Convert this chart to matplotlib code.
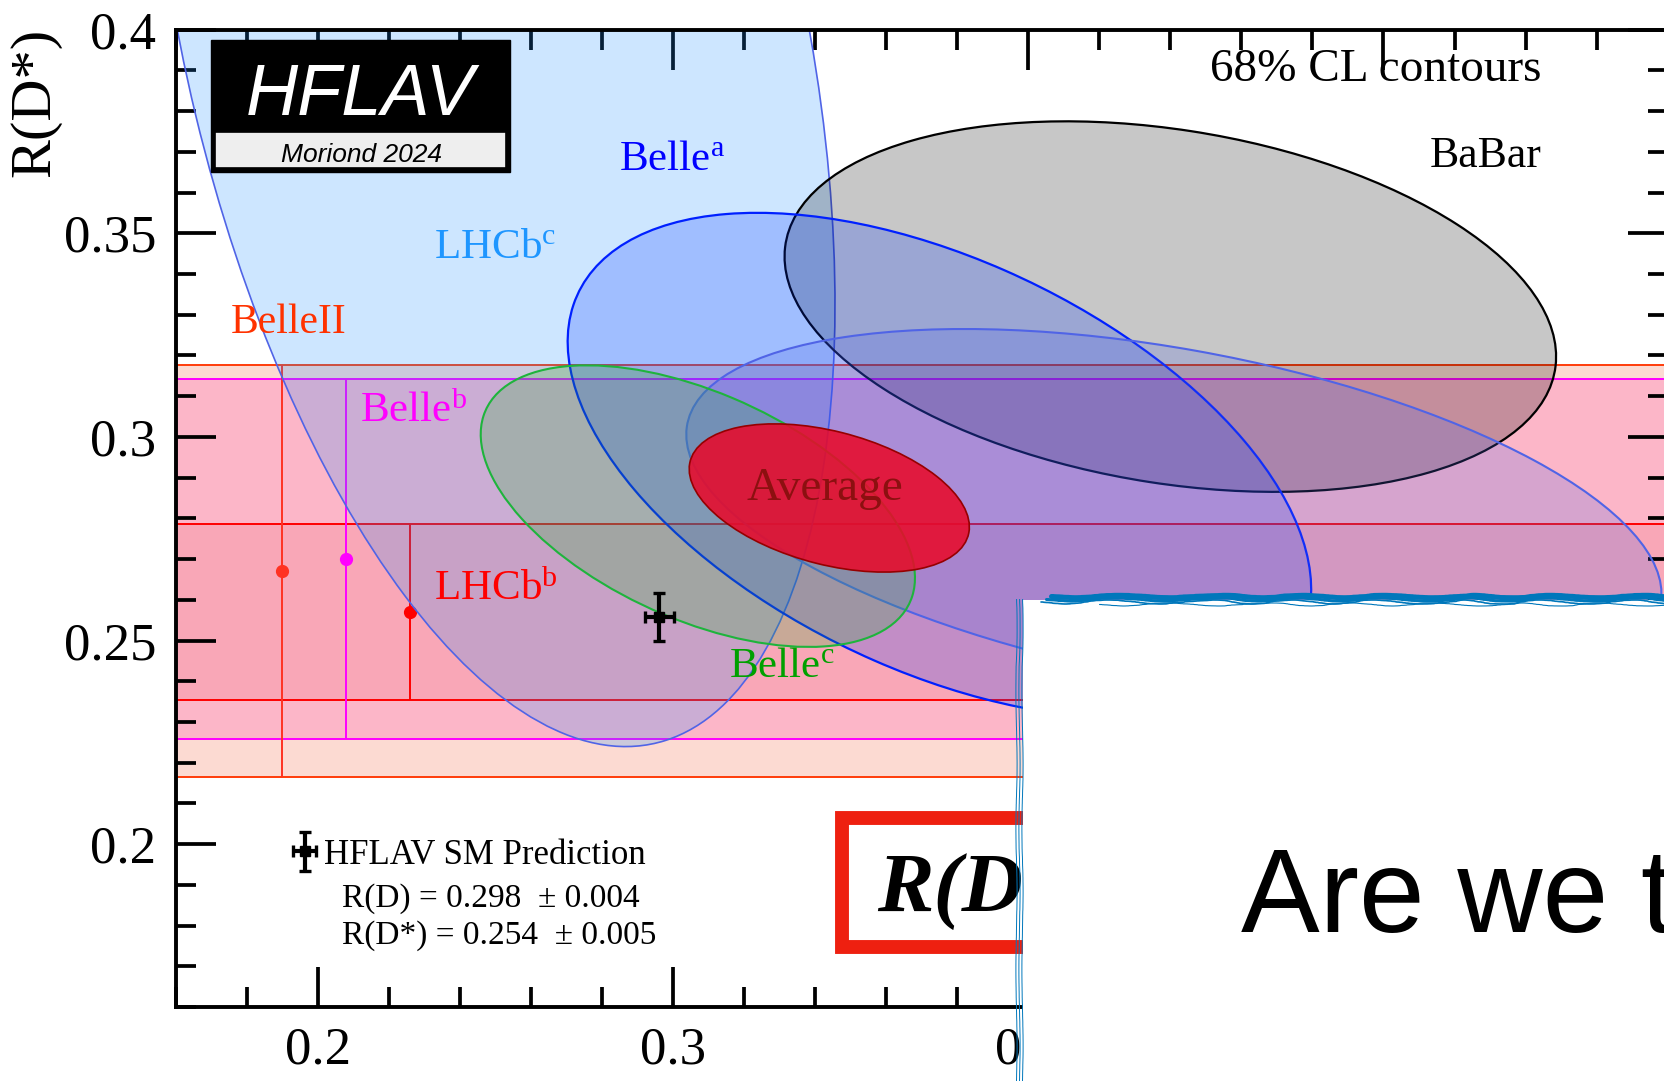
import numpy as np
import matplotlib
matplotlib.use('Agg')
import matplotlib.pyplot as plt
from matplotlib.patches import Ellipse, Rectangle
from matplotlib.lines import Line2D
from matplotlib.legend_handler import HandlerErrorbar
from matplotlib.ticker import MultipleLocator, FuncFormatter

plt.rcParams['font.family'] = ['Liberation Serif', 'DejaVu Serif']
plt.rcParams['mathtext.fontset'] = 'custom'
plt.rcParams['mathtext.rm'] = 'Liberation Serif'
plt.rcParams['mathtext.it'] = 'Liberation Serif:italic'

# 2D measurements: R(D), R(D*) with total errors and correlation
meas = ['LHCb^c', 'BaBar', 'Belle^a', 'LHCb^a', 'Belle^c']
rd = [0.249, 0.440, 0.375, 0.441, 0.307]
rd_err = [0.0637, 0.0716, 0.0690, 0.0905, 0.0403]
rds = [0.402, 0.332, 0.293, 0.281, 0.283]
rds_err = [0.1174, 0.0300, 0.0409, 0.0300, 0.0228]
corr = [-0.39, -0.27, -0.49, -0.43, -0.51]

# R(D*)-only measurements (bands)
band_names = ['BelleII', 'Belle^b', 'LHCb^b']
band_val = [0.267, 0.270, 0.257]
band_dn = [0.0506, 0.0443, 0.0217]
band_up = [0.0506, 0.0442, 0.0217]
band_x = [0.190, 0.208, 0.226]

# world average
avg_rd, avg_rd_err = 0.344, 0.026
avg_rds, avg_rds_err = 0.285, 0.012
avg_corr = -0.39

# SM prediction
sm_rd, sm_rd_err = 0.298, 0.004
sm_rds, sm_rds_err = 0.254, 0.005
sm_point = (0.2962, 0.2558)
sm_bar = (0.004, 0.0058)

DCHI2 = 2.30  # 68% CL in 2D


def contour(mx, my, sx, sy, rho, **kw):
    cov = np.array([[sx * sx, rho * sx * sy], [rho * sx * sy, sy * sy]])
    vals, vecs = np.linalg.eigh(cov)
    w = 2 * np.sqrt(DCHI2 * vals[1])
    h = 2 * np.sqrt(DCHI2 * vals[0])
    ang = np.degrees(np.arctan2(vecs[1, 1], vecs[0, 1]))
    return Ellipse((mx, my), w, h, angle=ang, **kw)


fig = plt.figure(figsize=(16.65, 10.81), dpi=100)
ax = fig.add_axes([0.10547, 0.06846, 0.89615, 0.90407])
ax.set_xlim(0.16, 0.58)
ax.set_ylim(0.16, 0.40)

# bands
band_fill = ['#f04a1e', '#fc26a0', '#e62828']
band_alpha = [0.2, 0.2, 0.1]
band_edge = ['#ff3c0a', '#ff00ff', '#ff0000']
band_pt = ['#ff3222', '#ff00ff', '#ff0000']
for v, dn, up, bx, fc, a, ec, pc in zip(band_val, band_dn, band_up, band_x,
                                         band_fill, band_alpha, band_edge, band_pt):
    ax.axhspan(v - dn, v + up, facecolor=fc, alpha=a, lw=0, zorder=1)
    ax.axhline(v - dn, color=ec, lw=1.4, zorder=1.5)
    ax.axhline(v + up, color=ec, lw=1.4, zorder=1.5)
    ax.errorbar(bx, v, yerr=[[dn], [up]], fmt='o', color=pc, ms=8.5,
                elinewidth=1.4, capsize=0, zorder=1.6)

# 2D contours
ell_face = ['#1e90ff', '#000000', '#0032ff', '#5064e6', '#1eb428']
ell_edge = ['#5064e6', '#000000', '#0020ff', '#5064e6', '#1eb43c']
ell_lw = [1.2, 1.6, 1.6, 1.5, 1.5]
for i in range(len(meas)):
    e = contour(rd[i], rds[i], rd_err[i], rds_err[i], corr[i],
                facecolor=matplotlib.colors.to_rgba(ell_face[i], 0.22),
                edgecolor=ell_edge[i], lw=ell_lw[i], zorder=2)
    ax.add_patch(e)

avg = contour(avg_rd, avg_rds, avg_rd_err, avg_rds_err, avg_corr,
              facecolor=matplotlib.colors.to_rgba('#e80a2a', 0.88),
              edgecolor='#960000', lw=1.2, zorder=3)
ax.add_patch(avg)

# SM point
sm = ax.errorbar(sm_point[0], sm_point[1], xerr=sm_bar[0], yerr=sm_bar[1],
                 fmt='s', color='k', ms=7, elinewidth=3, capsize=4.5,
                 capthick=2.4, zorder=6)

# labels
lab_txt = [r'Belle$^{\rm a}$', r'LHCb$^{\rm c}$', 'BelleII', r'Belle$^{\rm b}$',
           r'LHCb$^{\rm b}$', r'Belle$^{\rm c}$', 'Average']
lab_pos = [(0.2848, 0.3655), (0.2327, 0.3439), (0.1756, 0.3255), (0.2119, 0.3037),
           (0.2326, 0.2600), (0.3159, 0.2411), (0.3208, 0.2845)]
lab_col = ['#0000ff', '#1e96ff', '#ff3200', '#ff00ff', '#ff0000', '#00a000', '#8c1010']
lab_size = [31, 31, 30, 31, 31, 31, 34]
for t, (x, y), c, s in zip(lab_txt, lab_pos, lab_col, lab_size):
    ax.text(x, y, t, color=c, fontsize=s, va='baseline', ha='left', zorder=4)
ax.text(0.5445, 0.3663, 'BaBar', fontsize=31.5, ha='right', va='baseline', zorder=4)
ax.text(0.5446, 0.3875, '68% CL contours', fontsize=34, ha='right', va='baseline', zorder=4)

# SM legend
ax.legend([sm], ['HFLAV SM Prediction'], loc='center left',
          bbox_to_anchor=(0.0771, 0.1555), frameon=False, handlelength=0.8,
          handletextpad=0.15, borderpad=0, borderaxespad=0, fontsize=25,
          handler_map={type(sm): HandlerErrorbar(xerr_size=0.34, yerr_size=0.57)})
ax.text(0.1115, 0.1023, f'R(D) = {sm_rd:.3f}  \u00b1 {sm_rd_err:.3f}',
        transform=ax.transAxes, fontsize=24, va='baseline')
ax.text(0.1115, 0.0645, f'R(D*) = {sm_rds:.3f}  \u00b1 {sm_rds_err:.3f}',
        transform=ax.transAxes, fontsize=24, va='baseline')

# axes style
ax.xaxis.set_major_locator(MultipleLocator(0.1))
ax.xaxis.set_minor_locator(MultipleLocator(0.02))
ax.yaxis.set_major_locator(MultipleLocator(0.05))
ax.yaxis.set_minor_locator(MultipleLocator(0.01))
fmt = FuncFormatter(lambda v, p: f'{v:g}')
ax.xaxis.set_major_formatter(fmt)
ax.yaxis.set_major_formatter(fmt)
ax.tick_params(which='both', direction='in', top=True, right=True, width=2.7,
               labelsize=38, pad=14)
ax.tick_params(which='major', length=29)
ax.tick_params(which='minor', length=14.5)
for sp in ax.spines.values():
    sp.set_linewidth(2.8)
fig.text(0.021, 0.974, 'R(D*)', rotation=90, ha='center', va='top', fontsize=42)

# HFLAV logo
fig.add_artist(Rectangle((0.1265, 0.8409), 0.1798, 0.1221, transform=fig.transFigure,
                         facecolor='black', edgecolor='black', zorder=5))
fig.add_artist(Rectangle((0.1291, 0.8446), 0.1746, 0.0333, transform=fig.transFigure,
                         facecolor='#eeeeee', edgecolor='black', lw=1.2, zorder=6))
fig.text(0.2162, 0.8936, 'HFLAV', color='white', fontsize=52, style='italic',
         family='Liberation Sans', ha='center', va='baseline', zorder=7)
fig.text(0.2172, 0.8501, 'Moriond 2024', color='black', fontsize=19, style='italic',
         family='Liberation Sans', ha='center', va='baseline', zorder=7)

# slide elements on top of the plot
fig.add_artist(Rectangle((0.5057, 0.1235), 0.35, 0.1202, transform=fig.transFigure,
                         fill=False, edgecolor='#ee2010', lw=10, zorder=5))
fig.text(0.5267, 0.1566, 'R(D', fontsize=61, weight='bold', style='italic',
         va='baseline', zorder=6)
fig.add_artist(Rectangle((0.6144, -0.01), 0.40, 0.455, transform=fig.transFigure,
                         facecolor='white', edgecolor='none', zorder=8))
strokes = [(0.631, 1.0, 0.4488, 3.6, 1.2), (0.628, 1.0, 0.4462, 2.2, 1.6),
           (0.625, 1.0, 0.4432, 1.2, 2.0), (0.660, 1.0, 0.4410, 0.8, 1.5)]
for (x0, x1, y, lw, sc) in strokes:
    ln = Line2D([x0, x1], [y, y], transform=fig.transFigure, color='#0077bb',
                lw=lw, zorder=9, solid_capstyle='round')
    ln.set_sketch_params(sc, 140, 5)
    fig.add_artist(ln)
for x in [0.6104, 0.6120, 0.6136]:
    ln = Line2D([x, x], [0.0, 0.446], transform=fig.transFigure, color='#0077bb',
                lw=0.7, zorder=9)
    ln.set_sketch_params(0.6, 200, 4)
    fig.add_artist(ln)
fig.text(0.7453, 0.1378, 'Are we there yet?', fontsize=85, family='Liberation Sans',
         va='baseline', zorder=10)

fig.savefig('out.png', dpi=100)
